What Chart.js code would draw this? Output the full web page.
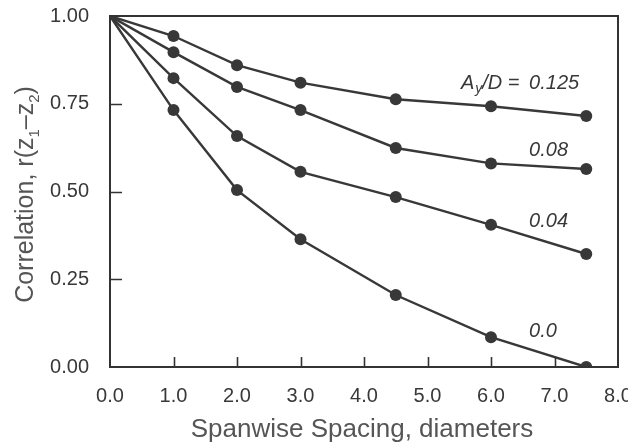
<!DOCTYPE html>
<html>
<head>
<meta charset="utf-8">
<script src="https://cdn.jsdelivr.net/npm/chart.js@4"></script>
<style>
  html, body { margin: 0; padding: 0; background: #ffffff; }
  #wrap { width: 628px; height: 443px; }
</style>
</head>
<body>
<div id="wrap"><canvas id="c" width="628" height="443"></canvas></div>
<script>
// ---- data ----
const spacing = [0, 1, 2, 3, 4.5, 6, 7.5];            // spanwise spacing, diameters
const r0125 = [1.00, 0.943, 0.860, 0.810, 0.763, 0.743, 0.715];
const r008  = [1.00, 0.897, 0.798, 0.732, 0.624, 0.580, 0.564];
const r004  = [1.00, 0.823, 0.658, 0.556, 0.484, 0.405, 0.322];
const r000  = [1.00, 0.732, 0.504, 0.364, 0.205, 0.085, 0.000];
const seriesValues = ["0.125", "0.08", "0.04", "0.0"];
const xTicks = [0, 1, 2, 3, 4, 5, 6, 7, 8];
const yTicks = [0, 0.25, 0.5, 0.75, 1.0];

// ---- style ----
const FONT = '"Liberation Sans", Arial, Helvetica, sans-serif';
const INK = '#383838';
const TITLE_INK = '#555555';

function pts(vals) { return spacing.map((x, i) => ({ x: x, y: vals[i] })); }

function ds(vals) {
  return {
    data: pts(vals),
    borderColor: INK,
    backgroundColor: INK,
    borderWidth: 2.4,
    pointRadius: (c) => c.dataIndex === 0 ? 0 : 6,
    pointHoverRadius: (c) => c.dataIndex === 0 ? 0 : 6,
    pointBorderWidth: 0,
    pointBackgroundColor: INK,
    tension: 0,
    clip: 0
  };
}

// label anchors (in data units) for the series annotations
const labelAnchorX = 6.6;
const labelAnchorY = [0.809, 0.618, 0.416, 0.100];

const decor = {
  id: 'decor',
  afterDraw(chart) {
    const { ctx, chartArea: a, scales } = chart;
    const xs = scales.x, ys = scales.y;
    ctx.save();
    // frame
    ctx.strokeStyle = '#333333';
    ctx.lineWidth = 2;
    ctx.strokeRect(a.left, a.top, a.right - a.left, a.bottom - a.top);
    // inward tick marks
    ctx.lineWidth = 1.6;
    ctx.beginPath();
    xTicks.forEach(v => {
      if (v === 0 || v === 8) return;
      const px = Math.round(xs.getPixelForValue(v)) + 0.5;
      ctx.moveTo(px, a.bottom);
      ctx.lineTo(px, a.bottom - 10);
    });
    yTicks.forEach(v => {
      if (v === 0 || v === 1) return;
      const py = Math.round(ys.getPixelForValue(v)) + 0.5;
      ctx.moveTo(a.left, py);
      ctx.lineTo(a.left + 12, py);
    });
    ctx.stroke();

    // series annotations
    ctx.fillStyle = INK;
    ctx.textBaseline = 'middle';
    const big = 'italic 20px ' + FONT;
    const small = 'italic 14px ' + FONT;
    const lx = xs.getPixelForValue(labelAnchorX);
    seriesValues.forEach((s, i) => {
      const ly = ys.getPixelForValue(labelAnchorY[i]);
      ctx.font = big;
      ctx.textAlign = 'left';
      ctx.fillText(s, lx, ly);
      if (i === 0) {
        ctx.textAlign = 'right';
        let x = lx - 4;
        const tail = '/D = ';
        ctx.fillText(tail, x, ly);
        x -= ctx.measureText(tail).width;
        ctx.font = small;
        ctx.fillText('y', x, ly + 6);
        x -= ctx.measureText('y').width + 1;
        ctx.font = big;
        ctx.fillText('A', x, ly);
      }
    });

    // x title
    ctx.fillStyle = TITLE_INK;
    ctx.font = '26px ' + FONT;
    ctx.textAlign = 'center';
    ctx.textBaseline = 'alphabetic';
    ctx.fillText('Spanwise Spacing, diameters', (a.left + a.right) / 2 - 2, 437);

    // y title with subscripts (rotated)
    const parts = [
      ['Correlation, r(z', '25px', 0],
      ['1', '15px', 6],
      ['\u2013z', '25px', 0],
      ['2', '15px', 6],
      [')', '25px', 0]
    ];
    let total = 0;
    parts.forEach(p => { ctx.font = p[1] + ' ' + FONT; total += ctx.measureText(p[0]).width; });
    ctx.translate(33, (a.top + a.bottom) / 2 + 3);
    ctx.rotate(-Math.PI / 2);
    ctx.textAlign = 'left';
    let x = -total / 2;
    parts.forEach(p => {
      ctx.font = p[1] + ' ' + FONT;
      ctx.fillText(p[0], x, p[2]);
      x += ctx.measureText(p[0]).width;
    });
    ctx.restore();
  }
};

new Chart(document.getElementById('c'), {
  type: 'line',
  data: { datasets: [ds(r0125), ds(r008), ds(r004), ds(r000)] },
  options: {
    responsive: false,
    animation: false,
    devicePixelRatio: 1,
    layout: { padding: { top: 16, right: 10, left: 0, bottom: 0 } },
    plugins: { legend: { display: false }, tooltip: { enabled: false } },
    scales: {
      x: {
        type: 'linear',
        min: 0, max: 8,
        afterBuildTicks: (s) => { s.ticks = xTicks.map(v => ({ value: v })); },
        grid: { display: false },
        border: { display: false },
        ticks: {
          color: INK,
          font: { family: FONT, size: 20 },
          padding: 9,
          maxRotation: 0,
          autoSkip: false,
          callback: (v) => Number(v).toFixed(1)
        },
        afterFit: (s) => { s.height = 76; s.paddingLeft = 0; s.paddingRight = 0; }
      },
      y: {
        type: 'linear',
        min: 0, max: 1,
        afterBuildTicks: (s) => { s.ticks = yTicks.map(v => ({ value: v })); },
        grid: { display: false },
        border: { display: false },
        ticks: {
          color: INK,
          font: { family: FONT, size: 20 },
          padding: 13,
          autoSkip: false,
          callback: (v) => Number(v).toFixed(2)
        },
        afterFit: (s) => { s.width = 110; s.paddingTop = 0; s.paddingBottom = 0; }
      }
    }
  },
  plugins: [decor]
});
</script>
</body>
</html>
